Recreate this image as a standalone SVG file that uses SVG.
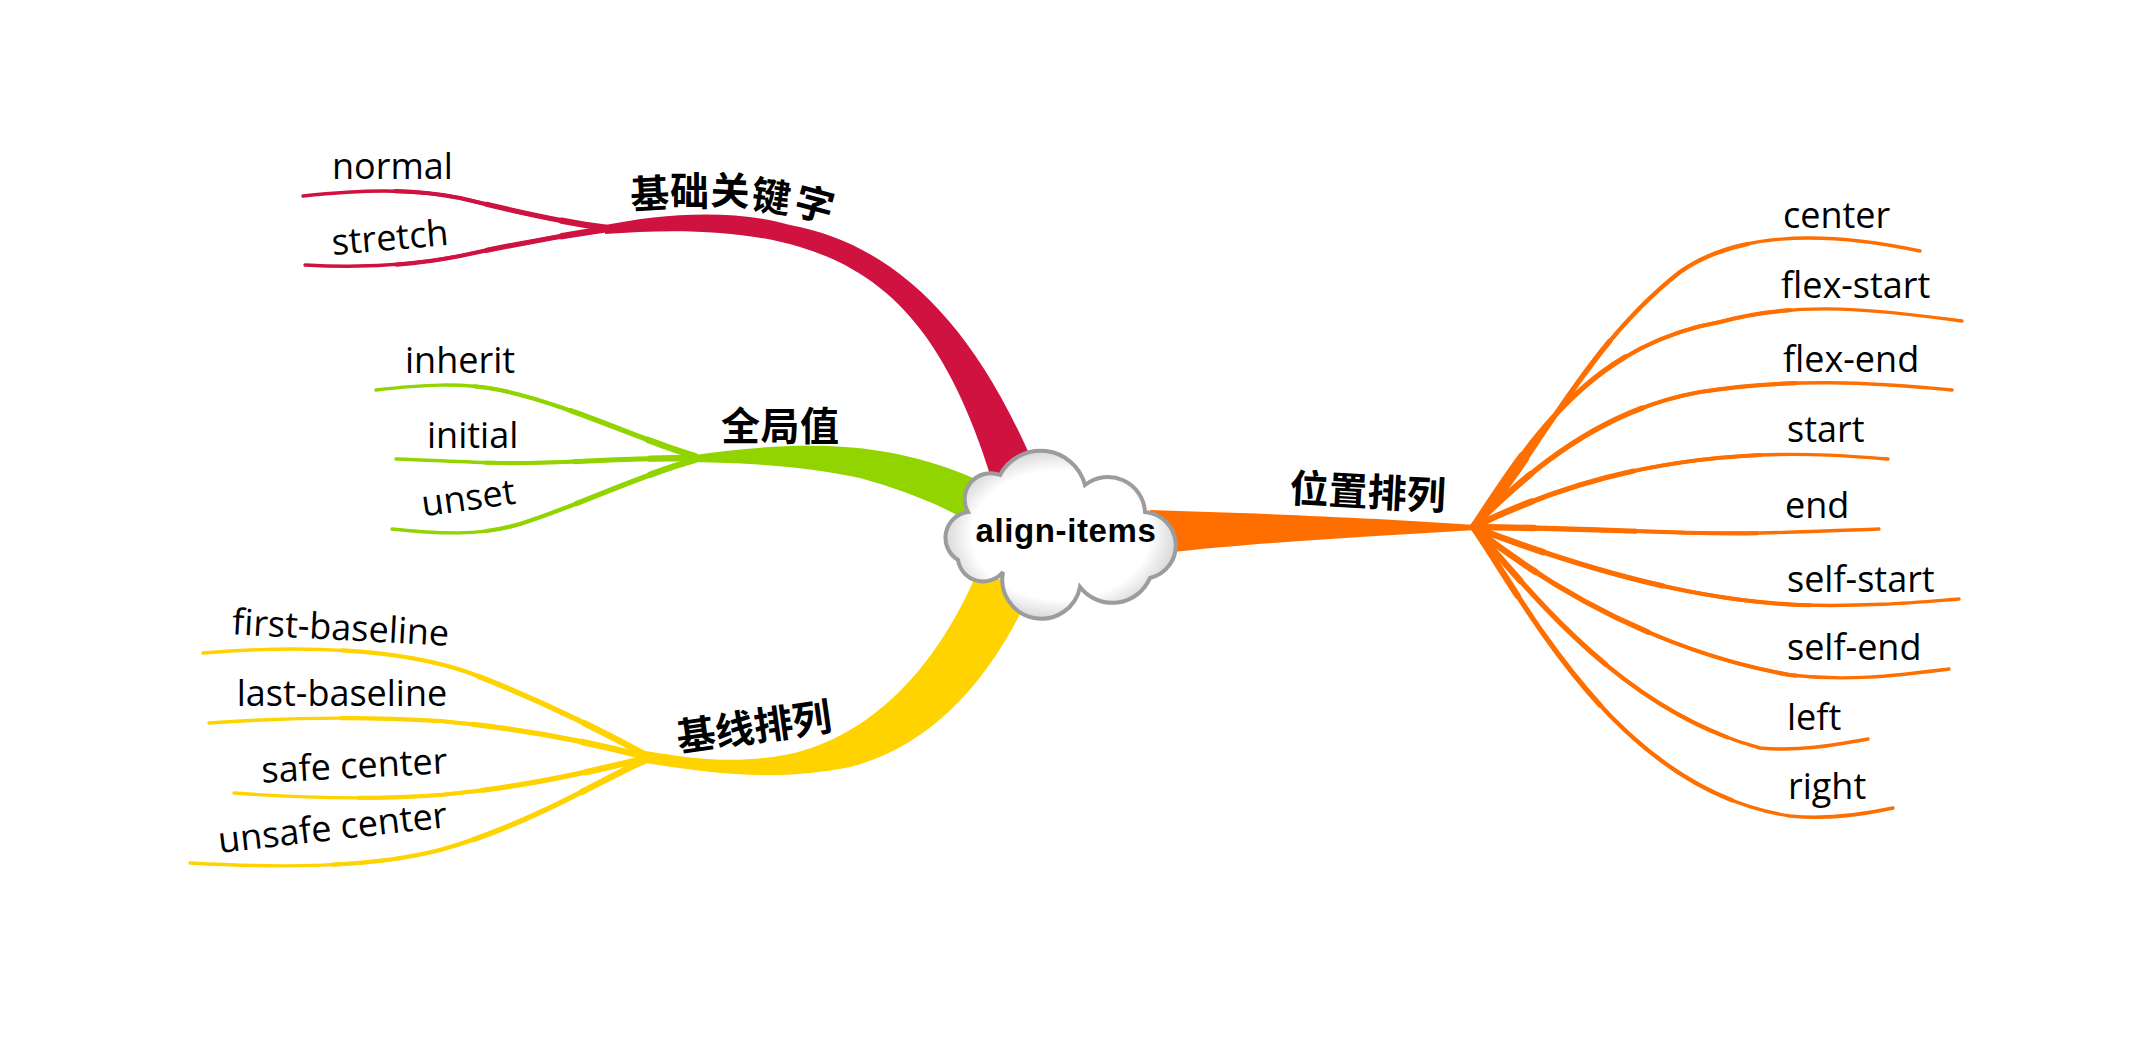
<svg xmlns="http://www.w3.org/2000/svg" xmlns:xlink="http://www.w3.org/1999/xlink" width="2150" height="1059" viewBox="0 0 2150 1059">
  <defs>
    <style>
      .leaf { font-family: "Open Sans", "Noto Sans", sans-serif; font-size: 36px; fill: #000; }
      .topic { font-family: "Noto Sans CJK SC", "Noto Sans", sans-serif; font-size: 39px; font-weight: 700; fill: #000; }
      .root { font-family: "Liberation Sans", "Noto Sans", sans-serif; font-size: 33px; font-weight: 700; fill: #000; letter-spacing: 0.6px; }
      .ln { fill: none; stroke-linejoin: round; }
      .w1 { stroke-width: 3.4; stroke-linecap: round; }
      .w2 { stroke-width: 4.2; stroke-dasharray: 70 200; stroke-linecap: round; }
      .w3 { stroke-width: 5.2; stroke-dasharray: 40 200; stroke-linecap: round; }
      .w4 { stroke-width: 6.4; stroke-dasharray: 15 200; stroke-linecap: round; }
      .red { stroke: #cf1240; fill: #cf1240; }
      .green { stroke: #92d400; fill: #92d400; }
      .yellow { stroke: #ffd300; fill: #ffd300; }
      .orange { stroke: #ff6f00; fill: #ff6f00; }
      .trunk { stroke: none; }
    </style>
    <radialGradient id="cloudFill" cx="50%" cy="50%" r="55%">
      <stop offset="0" stop-color="#ffffff"/>
      <stop offset="0.7" stop-color="#ffffff"/>
      <stop offset="1" stop-color="#c9c9c9"/>
    </radialGradient>
    <!-- leaf branch curves -->
    <path id="l-normal" pathLength="100" d="M 607 228 C 560 222, 510 210, 460 198 C 410 188, 360 190, 303 196"/>
    <path id="l-stretch" pathLength="100" d="M 607 229 C 560 236, 510 245, 460 256 C 410 266, 360 268, 305 265"/>
    <path id="l-inherit" pathLength="100" d="M 695 456 C 640 440, 570 405, 500 390 C 460 382, 420 385, 376 390"/>
    <path id="l-initial" pathLength="100" d="M 695 458 C 620 458, 560 464, 500 463 C 460 462, 430 460, 396 459"/>
    <path id="l-unset" pathLength="100" d="M 695 460 C 640 475, 580 505, 520 524 C 480 536, 440 534, 392 529"/>
    <path id="l-first" pathLength="100" d="M 646 755 C 600 730, 540 700, 470 673 C 400 648, 300 645, 203 653"/>
    <path id="l-last" pathLength="100" d="M 646 757 C 590 742, 520 728, 440 721 C 360 716, 280 718, 209 723"/>
    <path id="l-safe" pathLength="100" d="M 646 758 C 590 772, 520 788, 440 795 C 370 800, 300 798, 234 793"/>
    <path id="l-unsafe" pathLength="100" d="M 646 760 C 600 780, 530 825, 440 850 C 370 868, 280 868, 190 863"/>
    <path id="l-center" pathLength="100" d="M 1473 527 C 1530 470, 1580 350, 1680 272 C 1740 230, 1830 232, 1920 251"/>
    <path id="l-flexstart" pathLength="100" d="M 1473 527 C 1530 440, 1590 345, 1720 322 C 1800 300, 1880 310, 1962 321"/>
    <path id="l-flexend" pathLength="100" d="M 1473 527 C 1530 470, 1600 410, 1700 392 C 1790 378, 1870 382, 1952 390"/>
    <path id="l-start" pathLength="100" d="M 1473 527 C 1560 485, 1650 460, 1760 455 C 1810 453, 1850 456, 1888 459"/>
    <path id="l-end" pathLength="100" d="M 1473 527 C 1600 528, 1680 535, 1760 533 C 1810 532, 1850 530, 1879 529"/>
    <path id="l-selfstart" pathLength="100" d="M 1473 527 C 1560 560, 1680 600, 1800 605 C 1870 607, 1920 602, 1959 599"/>
    <path id="l-selfend" pathLength="100" d="M 1473 527 C 1540 580, 1650 650, 1790 675 C 1850 682, 1900 675, 1949 669"/>
    <path id="l-left" pathLength="100" d="M 1473 527 C 1530 590, 1620 710, 1760 748 C 1800 752, 1840 744, 1868 739"/>
    <path id="l-right" pathLength="100" d="M 1473 527 C 1530 610, 1620 790, 1790 816 C 1830 820, 1865 814, 1893 808"/>
  </defs>

  <rect width="2150" height="1059" fill="#ffffff"/>

  <!-- connectors: tapered trunks and thin leaf branches -->
  <g id="connectors">
    <g class="red">
      <path class="trunk" d="M 605 225 C 660 214, 730 208, 790 225 C 892 244, 978 320, 1045 492 L 998 500 C 955 352, 900 277, 800 247 C 740 229, 670 229, 605 234 Z"/>
      <g class="ln"><use xlink:href="#l-normal" class="w1"/><use xlink:href="#l-normal" class="w2"/><use xlink:href="#l-normal" class="w3"/><use xlink:href="#l-normal" class="w4"/></g>
      <g class="ln"><use xlink:href="#l-stretch" class="w1"/><use xlink:href="#l-stretch" class="w2"/><use xlink:href="#l-stretch" class="w3"/><use xlink:href="#l-stretch" class="w4"/></g>
    </g>
    <g class="green">
      <path class="trunk" d="M 695 455 C 750 447, 820 441, 880 451 C 930 459, 968 474, 1003 492 L 975 525 C 940 504, 900 489, 860 478 C 800 465, 740 463, 695 462 Z"/>
      <g class="ln"><use xlink:href="#l-inherit" class="w1"/><use xlink:href="#l-inherit" class="w2"/><use xlink:href="#l-inherit" class="w3"/><use xlink:href="#l-inherit" class="w4"/></g>
      <g class="ln"><use xlink:href="#l-initial" class="w1"/><use xlink:href="#l-initial" class="w2"/><use xlink:href="#l-initial" class="w3"/><use xlink:href="#l-initial" class="w4"/></g>
      <g class="ln"><use xlink:href="#l-unset" class="w1"/><use xlink:href="#l-unset" class="w2"/><use xlink:href="#l-unset" class="w3"/><use xlink:href="#l-unset" class="w4"/></g>
    </g>
    <g class="yellow">
      <path class="trunk" d="M 646 751 C 700 760, 740 764, 790 754 C 870 736, 935 670, 976 575 L 1034 585 C 992 680, 932 746, 850 767 C 780 781, 720 775, 646 763 Z"/>
      <g class="ln"><use xlink:href="#l-first" class="w1"/><use xlink:href="#l-first" class="w2"/><use xlink:href="#l-first" class="w3"/><use xlink:href="#l-first" class="w4"/></g>
      <g class="ln"><use xlink:href="#l-last" class="w1"/><use xlink:href="#l-last" class="w2"/><use xlink:href="#l-last" class="w3"/><use xlink:href="#l-last" class="w4"/></g>
      <g class="ln"><use xlink:href="#l-safe" class="w1"/><use xlink:href="#l-safe" class="w2"/><use xlink:href="#l-safe" class="w3"/><use xlink:href="#l-safe" class="w4"/></g>
      <g class="ln"><use xlink:href="#l-unsafe" class="w1"/><use xlink:href="#l-unsafe" class="w2"/><use xlink:href="#l-unsafe" class="w3"/><use xlink:href="#l-unsafe" class="w4"/></g>
    </g>
    <g class="orange">
      <path class="trunk" d="M 1150 510 C 1250 513, 1380 518, 1475 525 L 1475 530 C 1380 536, 1260 542, 1165 553 Z"/>
      <g class="ln"><use xlink:href="#l-center" class="w1"/><use xlink:href="#l-center" class="w2"/><use xlink:href="#l-center" class="w3"/><use xlink:href="#l-center" class="w4"/></g>
      <g class="ln"><use xlink:href="#l-flexstart" class="w1"/><use xlink:href="#l-flexstart" class="w2"/><use xlink:href="#l-flexstart" class="w3"/><use xlink:href="#l-flexstart" class="w4"/></g>
      <g class="ln"><use xlink:href="#l-flexend" class="w1"/><use xlink:href="#l-flexend" class="w2"/><use xlink:href="#l-flexend" class="w3"/><use xlink:href="#l-flexend" class="w4"/></g>
      <g class="ln"><use xlink:href="#l-start" class="w1"/><use xlink:href="#l-start" class="w2"/><use xlink:href="#l-start" class="w3"/><use xlink:href="#l-start" class="w4"/></g>
      <g class="ln"><use xlink:href="#l-end" class="w1"/><use xlink:href="#l-end" class="w2"/><use xlink:href="#l-end" class="w3"/><use xlink:href="#l-end" class="w4"/></g>
      <g class="ln"><use xlink:href="#l-selfstart" class="w1"/><use xlink:href="#l-selfstart" class="w2"/><use xlink:href="#l-selfstart" class="w3"/><use xlink:href="#l-selfstart" class="w4"/></g>
      <g class="ln"><use xlink:href="#l-selfend" class="w1"/><use xlink:href="#l-selfend" class="w2"/><use xlink:href="#l-selfend" class="w3"/><use xlink:href="#l-selfend" class="w4"/></g>
      <g class="ln"><use xlink:href="#l-left" class="w1"/><use xlink:href="#l-left" class="w2"/><use xlink:href="#l-left" class="w3"/><use xlink:href="#l-left" class="w4"/></g>
      <g class="ln"><use xlink:href="#l-right" class="w1"/><use xlink:href="#l-right" class="w2"/><use xlink:href="#l-right" class="w3"/><use xlink:href="#l-right" class="w4"/></g>
    </g>
  </g>

  <!-- central topic -->
  <g id="node-root">
    <path d="M 968 512 A 26 26 0 0 1 1000 475 A 46 46 0 0 1 1085 485 A 37 37 0 0 1 1145 512 A 33.5 33.5 0 0 1 1150 578 A 41 41 0 0 1 1080 587 A 39 39 0 0 1 1003 572 A 25.5 25.5 0 0 1 958 560 A 26 26 0 0 1 968 512 Z" fill="url(#cloudFill)" stroke="#9c9c9c" stroke-width="4"/>
    <text class="root" x="1066" y="542" text-anchor="middle">align-items</text>
  </g>

  <!-- main topics -->
  <g id="node-keywords"><text class="topic" x="631 670 710 750 792" y="209 205 204 208 213" rotate="-3 0 3 8 15">基础关键字</text></g>
  <g id="node-global"><text class="topic" x="721" y="440" letter-spacing="0.5">全局值</text></g>
  <g id="node-baseline"><text class="topic" x="756" y="741" text-anchor="middle" transform="rotate(-8 756 741)">基线排列</text></g>
  <g id="node-position"><text class="topic" x="1367" y="506" text-anchor="middle" transform="rotate(3 1367 506)">位置排列</text></g>

  <!-- leaf topics -->
  <g id="node-normal"><text class="leaf" x="332" y="179">normal</text></g>
  <g id="node-stretch"><text class="leaf" x="391" y="250" text-anchor="middle" transform="rotate(-5 391 250)">stretch</text></g>
  <g id="node-inherit"><text class="leaf" x="405" y="373">inherit</text></g>
  <g id="node-initial"><text class="leaf" x="427" y="448">initial</text></g>
  <g id="node-unset"><text class="leaf" x="470" y="510" text-anchor="middle" transform="rotate(-8 470 510)">unset</text></g>
  <g id="node-first-baseline"><text class="leaf" x="340" y="640" text-anchor="middle" transform="rotate(3 340 640)">first-baseline</text></g>
  <g id="node-last-baseline"><text class="leaf" x="342" y="706" text-anchor="middle">last-baseline</text></g>
  <g id="node-safe-center"><text class="leaf" x="355" y="778" text-anchor="middle" transform="rotate(-3 355 778)">safe center</text></g>
  <g id="node-unsafe-center"><text class="leaf" x="334" y="840" text-anchor="middle" transform="rotate(-6.5 334 840)">unsafe center</text></g>
  <g id="node-center"><text class="leaf" x="1783" y="228">center</text></g>
  <g id="node-flex-start"><text class="leaf" x="1781" y="298">flex-start</text></g>
  <g id="node-flex-end"><text class="leaf" x="1783" y="372">flex-end</text></g>
  <g id="node-start"><text class="leaf" x="1787" y="442">start</text></g>
  <g id="node-end"><text class="leaf" x="1785" y="518">end</text></g>
  <g id="node-self-start"><text class="leaf" x="1787" y="592">self-start</text></g>
  <g id="node-self-end"><text class="leaf" x="1787" y="660">self-end</text></g>
  <g id="node-left"><text class="leaf" x="1787" y="730">left</text></g>
  <g id="node-right"><text class="leaf" x="1788" y="799">right</text></g>
</svg>
